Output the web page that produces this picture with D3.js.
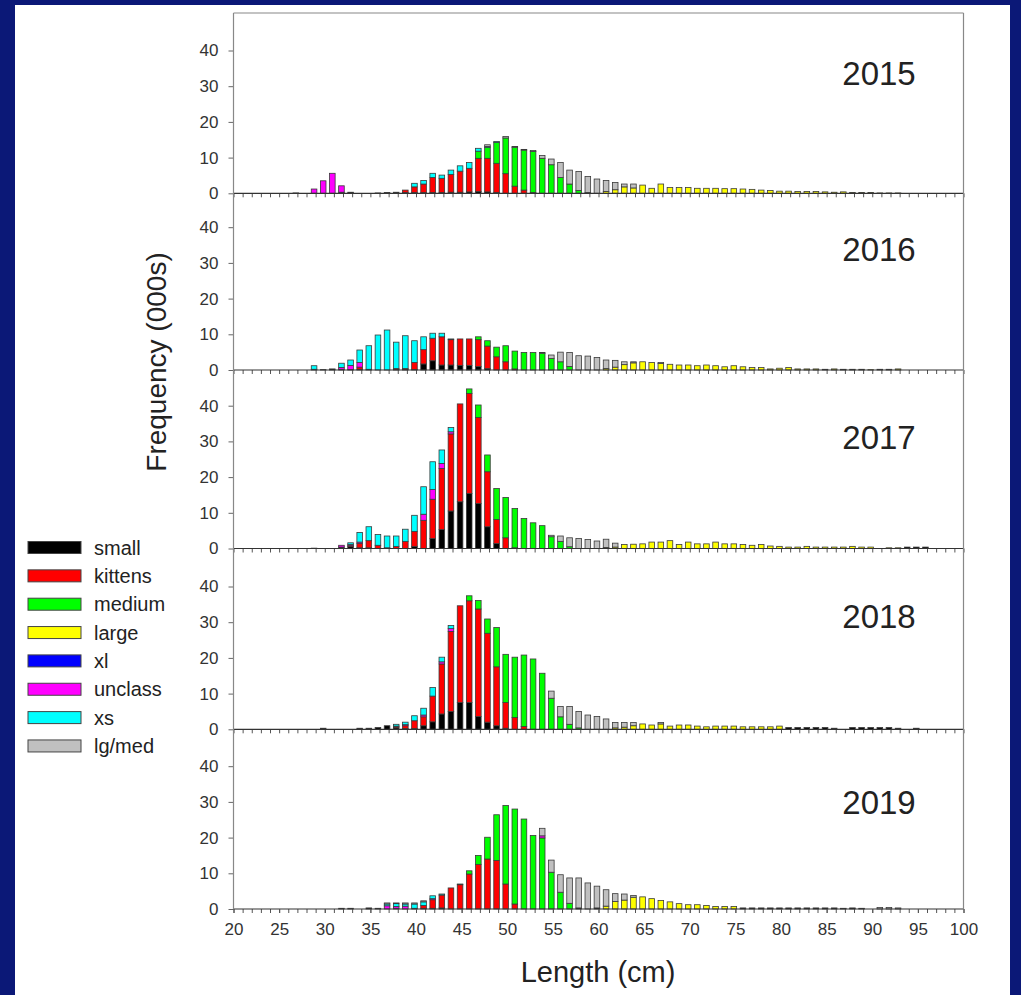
<!DOCTYPE html>
<html>
<head>
<meta charset="utf-8">
<script src="https://cdn.jsdelivr.net/npm/d3@7"></script>
<style>
  body { margin: 0; background: #0b1877; }
  svg { display: block; font-family: Arial, "Liberation Sans", sans-serif; }
</style>
</head>
<body>
<svg id="chart" width="1021" height="995"></svg>
<script>
// legend / stack order (bottom to top)
const categories = ["small", "kittens", "medium", "large", "xl", "unclass", "xs", "lg/med"];
const colors = ["#000000", "#ff0000", "#00ff00", "#ffff00", "#0000ff", "#ff00ff", "#00ffff", "#c0c0c0"];
const years = [2015, 2016, 2017, 2018, 2019];
const yTicks = [0, 10, 20, 30, 40];
const xTickLabels = d3.range(20, 101, 5);

// rows: [length, small, kittens, medium, large, xl, unclass, xs, lg/med]  (missing = 0)
const rows2015 = [
  [27, .1], [29, 0, 0, 0, 0, 0, 1.2], [30, 0, 0, 0, 0, 0, 3.5], [31, 0, 0, 0, 0, 0, 5.6],
  [32, .3, 0, 0, 0, 0, 1.8], [33, .3], [36, .1], [37, .2], [38, .3], [39, .2, .7],
  [40, .2, 1.6, 0, 0, 0, 0, 1.0], [41, .2, 2.4, 0, 0, 0, 0, 1.0], [42, .2, 4.2, 0, 0, 0, 0, 1.2],
  [43, .2, 4.0, 0, 0, 0, 0, .9], [44, .3, 5.0, 0, 0, 0, 0, 1.2], [45, .3, 5.9, 0, 0, 0, 0, 1.5],
  [46, .4, 6.6, 0, 0, 0, 0, 1.6], [47, .5, 9.3, 2.0, 0, 0, 0, .8], [48, .4, 9.4, 3.0, 0, 0, 0, .3, .5],
  [49, .2, 8.2, 5.8, 0, 0, 0, .3], [50, 0, 5.5, 10.0, 0, 0, 0, 0, .4], [51, 0, 2.0, 10.9, 0, 0, 0, 0, .2],
  [52, 0, .9, 11.2, 0, 0, 0, 0, .2], [53, 0, .2, 11.5, 0, 0, 0, 0, .3], [54, 0, 0, 9.8, 0, 0, 0, 0, .8],
  [55, 0, 0, 8.0, 0, 0, 0, 0, 1.6], [56, 0, 0, 4.4, 0, 0, 0, 0, 4.2], [57, 0, 0, 2.6, 0, 0, 0, 0, 3.9],
  [58, 0, 0, .8, 0, 0, 0, 0, 5.3], [59, 0, 0, .2, 0, 0, 0, 0, 4.5], [60, 0, 0, 0, 0, 0, 0, 0, 4.0],
  [61, 0, 0, 0, .5, 0, 0, 0, 3.1], [62, 0, 0, 0, 1.0, 0, 0, 0, 2.0], [63, 0, 0, 0, 1.8, 0, 0, 0, .8],
  [64, 0, 0, 0, 1.5, 0, 0, 0, 1.1], [65, 0, 0, 0, 2.3], [66, 0, 0, 0, 1.4], [67, 0, 0, 0, 2.6],
  [68, 0, 0, 0, 1.6], [69, 0, 0, 0, 1.6], [70, 0, 0, 0, 1.6], [71, 0, 0, 0, 1.4], [72, 0, 0, 0, 1.4],
  [73, 0, 0, 0, 1.4], [74, 0, 0, 0, 1.3], [75, 0, 0, 0, 1.3], [76, 0, 0, 0, 1.2], [77, 0, 0, 0, 1.1],
  [78, 0, 0, 0, .9], [79, 0, 0, 0, .8], [80, 0, 0, 0, .6], [81, 0, 0, 0, .6], [82, 0, 0, 0, .5],
  [83, 0, 0, 0, .5], [84, 0, 0, 0, .5], [85, 0, 0, 0, .4], [86, 0, 0, 0, .3], [87, 0, 0, 0, .4],
  [88, 0, 0, 0, .2], [89, 0, 0, 0, .2], [90, 0, 0, 0, .2], [91, 0, 0, 0, .1], [92, 0, 0, 0, .1], [93, 0, 0, 0, .1]
];

const rows2016 = [
  [29, .2, 0, 0, 0, 0, 0, 1.0], [30, .1], [31, .3], [32, .2, 0, 0, 0, 0, .5, 1.2],
  [33, .1, 0, 0, 0, 0, 1.2, 1.5], [34, .2, .6, 0, 0, 0, 1.3, 3.5], [35, .2, 0, 0, 0, 0, 0, 6.6],
  [36, 0, 0, 0, 0, 0, 0, 9.8], [37, 0, 0, 0, 0, 0, 0, 11.2], [38, .1, .3, 0, 0, 0, 0, 7.4],
  [39, .1, .3, 0, 0, 0, 0, 9.2], [40, .1, 2.0, 0, 0, 0, 0, 6.1], [41, 1.7, 4.0, 0, 0, 0, 0, 3.6],
  [42, 2.6, 6.3, 0, 0, 0, 0, 1.4], [43, 1.4, 7.9, 0, 0, 0, 0, 1.0], [44, 1.4, 7.1, 0, 0, 0, 0, .2],
  [45, 1.3, 7.4], [46, 1.3, 7.4], [47, 1.0, 7.5, .8], [48, .4, 6.3, 1.5], [49, 0, 3.7, 2.7],
  [50, 0, 2.3, 4.5], [51, 0, .3, 5.0], [52, 0, 0, 4.9], [53, 0, 0, 4.9], [54, 0, 0, 4.7, 0, 0, 0, 0, .2],
  [55, 0, 0, 3.2, 0, 0, 0, 0, 1.0], [56, 0, 0, 2.3, 0, 0, 0, 0, 2.7], [57, 0, 0, 1.0, 0, 0, 0, 0, 3.9],
  [58, 0, 0, 0, 0, 0, 0, 0, 4.0], [59, 0, 0, 0, 0, 0, 0, 0, 3.9], [60, 0, 0, 0, 0, 0, 0, 0, 3.5],
  [61, 0, 0, 0, .4, 0, 0, 0, 2.4], [62, 0, 0, 0, .8, 0, 0, 0, 1.9], [63, 0, 0, 0, 1.5, 0, 0, 0, .8],
  [64, 0, 0, 0, 2.0, 0, 0, 0, .3], [65, 0, 0, 0, 2.3], [66, 0, 0, 0, 2.1], [67, 0, 0, 0, 1.8, 0, 0, 0, .3],
  [68, 0, 0, 0, 1.6], [69, 0, 0, 0, 1.4], [70, 0, 0, 0, 1.4], [71, 0, 0, 0, 1.2], [72, 0, 0, 0, 1.4],
  [73, 0, 0, 0, 1.2], [74, 0, 0, 0, .9], [75, 0, 0, 0, 1.2], [76, 0, 0, 0, .9], [77, 0, 0, 0, .7],
  [78, 0, 0, 0, .7], [79, 0, 0, 0, .3], [80, 0, 0, 0, .5], [81, 0, 0, 0, .7], [82, 0, 0, 0, .3],
  [83, 0, 0, 0, .3], [84, 0, 0, 0, .3], [85, 0, 0, 0, .2], [86, 0, 0, 0, .3], [87, 0, 0, 0, .2],
  [88, 0, 0, 0, .2], [89, 0, 0, 0, .2], [90, 0, 0, 0, .1], [91, 0, 0, 0, .2], [92, 0, 0, 0, .2], [93, 0, 0, 0, .3]
];

const rows2017 = [
  [29, .1], [32, .4, 0, 0, 0, 0, .5], [33, .5, .3, 0, 0, 0, .3, .5], [34, .2, 1.2, 0, 0, 0, .4, 2.7],
  [35, .2, 2.0, 0, 0, 0, 0, 3.9], [36, 0, .9, 0, 0, 0, 0, 3.0], [37, .2, 0, 0, 0, 0, 0, 3.3],
  [38, 0, .6, 0, 0, 0, 0, 2.9], [39, 0, 2.0, 0, 0, 0, 0, 3.4], [40, .6, 4.2, 0, 0, 0, 0, 4.5],
  [41, 0, 7.9, 0, 0, 0, 1.7, 7.7], [42, 2.8, 11.0, 0, 0, 0, 2.7, 7.8], [43, 5.3, 17.1, 0, 0, 0, 1.4, 3.8],
  [44, 10.5, 21.6, 0, 0, 0, .6, 1.2], [45, 13.1, 27.4], [46, 15.4, 28.0, 1.3], [47, 12.6, 24.1, 3.5],
  [48, 6.1, 15.4, 4.7], [49, 1.4, 6.7, 8.7], [50, 0, 3.0, 11.3], [51, 0, .2, 11.0], [52, 0, 0, 8.4],
  [53, 0, 0, 7.2], [54, 0, 0, 6.4], [55, 0, 0, 3.3, 0, 0, 0, 0, .4], [56, 0, 0, 2.0, 0, 0, 0, 0, 1.5],
  [57, 0, 0, .5, 0, 0, 0, 0, 2.5], [58, 0, 0, 0, 0, 0, 0, 0, 2.8], [59, 0, 0, 0, 0, 0, 0, 0, 2.5],
  [60, 0, 0, 0, 0, 0, 0, 0, 2.1], [61, 0, 0, 0, .3, 0, 0, 0, 2.3], [62, 0, 0, 0, .4, 0, 0, 0, 1.1],
  [63, 0, 0, 0, 1.1], [64, 0, 0, 0, 1.2], [65, 0, 0, 0, 1.3], [66, 0, 0, 0, 1.8], [67, 0, 0, 0, 1.8],
  [68, 0, 0, 0, 2.2], [69, 0, 0, 0, 1.1], [70, 0, 0, 0, 1.8], [71, 0, 0, 0, 1.3], [72, 0, 0, 0, 1.3],
  [73, 0, 0, 0, 1.8], [74, 0, 0, 0, 1.3], [75, 0, 0, 0, 1.3], [76, 0, 0, 0, 1.1], [77, 0, 0, 0, .9],
  [78, 0, 0, 0, 1.1], [79, 0, 0, 0, .7], [80, 0, 0, 0, .6], [81, 0, 0, 0, .4], [82, 0, 0, 0, .4],
  [83, 0, 0, 0, .6], [84, 0, 0, 0, .4], [85, 0, 0, 0, .4], [86, 0, 0, 0, .4], [87, 0, 0, 0, .4],
  [88, 0, 0, 0, .6], [89, 0, 0, 0, .4], [90, 0, 0, 0, .4], [92, 0, 0, 0, .2], [93, 0, 0, 0, .2],
  [94, .4], [95, .4], [96, .4]
];

const rows2018 = [
  [30, .3], [34, .3], [35, .3], [36, .5], [37, 1.0], [38, .4, .3, 0, 0, 0, .2, .5],
  [39, .2, .8, 0, 0, 0, .3, .7], [40, .2, 2.2, 0, 0, 0, 0, 1.4], [41, 1.0, 2.5, 0, 0, 0, .5, 1.9],
  [42, 2.1, 7.2, 0, 0, 0, 0, 2.4], [43, 4.3, 14.0, 0, 0, 0, .6, 1.3], [44, 5.0, 22.4, 0, 0, 0, .8, .9],
  [45, 7.5, 27.1], [46, 7.5, 28.5, 1.4], [47, 3.6, 30.1, 2.4], [48, 2.0, 24.9, 4.0],
  [49, 1.0, 16.5, 11.0], [50, .3, 7.2, 13.5], [51, 0, 3.3, 16.9], [52, 0, .8, 20.0], [53, 0, 0, 19.7],
  [54, 0, 0, 15.7], [55, 0, 0, 8.7, 0, 0, 0, 0, 2.0], [56, 0, 0, 3.5, 0, 0, 0, 0, 2.9],
  [57, 0, 0, 1.4, 0, 0, 0, 0, 5.0], [58, 0, 0, .4, 0, 0, 0, 0, 4.6], [59, 0, 0, 0, 0, 0, 0, 0, 4.0],
  [60, 0, 0, 0, 0, 0, 0, 0, 3.6], [61, 0, 0, 0, 0, 0, 0, 0, 2.9], [62, 0, 0, 0, .4, 0, 0, 0, 1.5],
  [63, 0, 0, 0, .6, 0, 0, 0, 1.3], [64, 0, 0, 0, 1.0, 0, 0, 0, .9], [65, 0, 0, 0, 1.5], [66, 0, 0, 0, 1.2],
  [67, 0, 0, 0, 1.5, 0, 0, 0, .4], [68, 0, 0, 0, .9], [69, 0, 0, 0, 1.2], [70, 0, 0, 0, 1.2],
  [71, 0, 0, 0, .9], [72, 0, 0, 0, .7], [73, 0, 0, 0, .9], [74, 0, 0, 0, .9], [75, 0, 0, 0, .9],
  [76, 0, 0, 0, .7], [77, 0, 0, 0, .7], [78, 0, 0, 0, .7], [79, 0, 0, 0, .7], [80, 0, 0, 0, .9],
  [81, .5], [82, .5], [83, .5], [84, .5], [85, .5], [86, .3], [88, .5], [89, .5], [90, .5],
  [91, .5], [92, .5], [93, .3], [95, .3]
];

const rows2019 = [
  [32, 0, 0, 0, 0, 0, 0, 0, .2], [33, 0, 0, 0, 0, 0, 0, 0, .2], [35, .3], [36, .2],
  [37, 0, 0, 0, 0, 0, .9, .5, .3], [38, .2, 0, 0, 0, 0, .5, .8, .2], [39, 0, 0, 0, 0, 0, .8, .6, .3],
  [40, 0, .2, 0, 0, 0, 0, 1.2, .3], [41, .2, .8, 0, 0, 0, 0, 1.0, .3], [42, .2, 2.4, 0, 0, 0, .3, .8],
  [43, .3, 3.6, 0, 0, 0, 0, .3], [44, 0, 5.9], [45, 0, 6.8, 0, 0, 0, 0, 0, .2], [46, 0, 9.8, .9],
  [47, 0, 12.5, 2.5], [48, 0, 14.0, 6.1], [49, 0, 13.6, 12.8], [50, 0, 7.0, 22.0], [51, 0, 1.4, 26.6],
  [52, 0, 0, 25.2], [53, 0, 0, 20.6], [54, 0, 0, 19.9, 0, 0, .6, 0, 2.1], [55, 0, 0, 10.3, 0, 0, 0, 0, 3.4],
  [56, 0, 0, 4.7, 0, 0, 0, 0, 4.9], [57, 0, 0, 1.6, 0, 0, 0, 0, 7.1], [58, .3, 0, 0, 0, 0, 0, 0, 8.4],
  [59, 0, 0, 0, 0, 0, 0, 0, 7.3], [60, .3, 0, 0, 0, 0, 0, 0, 6.1], [61, 0, 0, 0, .8, 0, 0, 0, 4.6],
  [62, 0, 0, 0, 2.1, 0, 0, 0, 2.2], [63, 0, 0, 0, 2.5, 0, 0, 0, 1.7], [64, 0, 0, 0, 3.3, 0, 0, 0, .5],
  [65, 0, 0, 0, 3.4], [66, 0, 0, 0, 2.9], [67, 0, 0, 0, 2.4], [68, 0, 0, 0, 2.0], [69, 0, 0, 0, 1.5],
  [70, 0, 0, 0, 1.2], [71, 0, 0, 0, 1.2], [72, 0, 0, 0, 1.0], [73, 0, 0, 0, .7], [74, 0, 0, 0, .7],
  [75, 0, 0, 0, .7], [76, .3], [77, .3], [78, .3], [79, .3], [80, .3], [81, .3], [82, .3], [83, .3],
  [84, .3], [85, .3], [86, .3], [87, .2], [88, .3], [89, .2], [91, 0, 0, 0, 0, 0, 0, 0, .4],
  [92, 0, 0, 0, 0, 0, 0, 0, .4], [93, 0, 0, 0, 0, 0, 0, 0, .3]
];

const yearRows = [rows2015, rows2016, rows2017, rows2018, rows2019];

// layout
const svg = d3.select("#chart");
svg.append("rect").attr("x", 15).attr("y", 5).attr("width", 995).attr("height", 990).attr("fill", "#fff");

const x = d3.scaleLinear().domain([20, 100]).range([233.5, 963.5]);
const frameTop = 13;
const panelBase = [193.3, 370, 548.5, 729.3, 909];
const pxPerUnit = 3.57;
const barW = 5.6;
const yearLabelOffset = [108, 109, 100, 101, 95];

const stack = d3.stack().keys(categories);

years.forEach((yr, i) => {
  const base = panelBase[i];
  const top = i === 0 ? frameTop : panelBase[i - 1];
  const y = d3.scaleLinear().domain([0, (base - top) / pxPerUnit]).range([base, top]);

  const table = yearRows[i].map(r => {
    const o = { len: r[0] };
    categories.forEach((c, k) => { o[c] = r[k + 1] || 0; });
    return o;
  });

  const g = svg.append("g").attr("class", "panel");

  // bars
  g.selectAll("g.series")
    .data(stack(table))
    .join("g")
    .attr("class", "series")
    .attr("fill", (d, k) => colors[k])
    .selectAll("rect")
    .data(d => d.filter(s => s[1] - s[0] > 0))
    .join("rect")
    .attr("x", s => x(s.data.len - 0.17) - barW / 2)
    .attr("y", s => y(s[1]))
    .attr("width", barW)
    .attr("height", s => y(s[0]) - y(s[1]))
    .attr("stroke", "#3a3a3a")
    .attr("stroke-width", 0.8);

  // y axis
  const yAxis = g.append("g")
    .attr("transform", `translate(${x(20)},0)`)
    .call(d3.axisLeft(y).tickValues(yTicks).tickSize(5).tickPadding(10));
  yAxis.select(".domain").remove();
  yAxis.selectAll("line").attr("stroke", "#666");
  yAxis.selectAll("text").attr("font-size", 17).attr("fill", "#333")
    .attr("font-family", "Arial, 'Liberation Sans', sans-serif");

  // x minor ticks
  const xAxis = g.append("g")
    .attr("transform", `translate(0,${base})`)
    .call(d3.axisBottom(x).tickValues(d3.range(20, 101)).tickSize(4).tickFormat(""));
  xAxis.select(".domain").remove();
  xAxis.selectAll("line").attr("stroke", "#555");

  // baseline
  g.append("line")
    .attr("x1", x(20)).attr("x2", x(100))
    .attr("y1", base).attr("y2", base)
    .attr("stroke", "#333").attr("stroke-width", 1.2);

  // year label
  g.append("text")
    .attr("x", 879)
    .attr("y", base - yearLabelOffset[i])
    .attr("text-anchor", "middle")
    .attr("font-size", 33)
    .attr("fill", "#222")
    .text(yr);
});

// frame
svg.append("line").attr("x1", x(20)).attr("x2", x(100)).attr("y1", frameTop).attr("y2", frameTop)
  .attr("stroke", "#888").attr("stroke-width", 1.2);
svg.append("line").attr("x1", x(20)).attr("x2", x(20)).attr("y1", frameTop).attr("y2", panelBase[4])
  .attr("stroke", "#888").attr("stroke-width", 1.2);
svg.append("line").attr("x1", x(100)).attr("x2", x(100)).attr("y1", frameTop).attr("y2", panelBase[4])
  .attr("stroke", "#888").attr("stroke-width", 1.2);

// x labels
const xLab = svg.append("g")
  .attr("transform", `translate(0,${panelBase[4]})`)
  .call(d3.axisBottom(x).tickValues(xTickLabels).tickSize(4).tickPadding(10));
xLab.select(".domain").remove();
xLab.selectAll("line").attr("stroke", "#555");
xLab.selectAll("text").attr("font-size", 17).attr("fill", "#333")
  .attr("font-family", "Arial, 'Liberation Sans', sans-serif");

// axis titles
svg.append("text")
  .attr("x", 598).attr("y", 982)
  .attr("text-anchor", "middle")
  .attr("font-size", 29)
  .attr("fill", "#222")
  .text("Length (cm)");

svg.append("text")
  .attr("transform", "translate(166,362) rotate(-90)")
  .attr("text-anchor", "middle")
  .attr("font-size", 28)
  .attr("fill", "#222")
  .text("Frequency (000s)");

// legend
const legend = svg.append("g").attr("transform", "translate(28,547.5)");
const item = legend.selectAll("g")
  .data(categories)
  .join("g")
  .attr("transform", (d, k) => `translate(0,${k * 28.35})`);
item.append("rect")
  .attr("x", 0).attr("y", -6)
  .attr("width", 53).attr("height", 12)
  .attr("fill", (d, k) => colors[k])
  .attr("stroke", "#444").attr("stroke-width", 1);
item.append("text")
  .attr("x", 66).attr("y", 0)
  .attr("dy", "0.35em")
  .attr("font-size", 20)
  .attr("fill", "#222")
  .text(d => d);
</script>
</body>
</html>
